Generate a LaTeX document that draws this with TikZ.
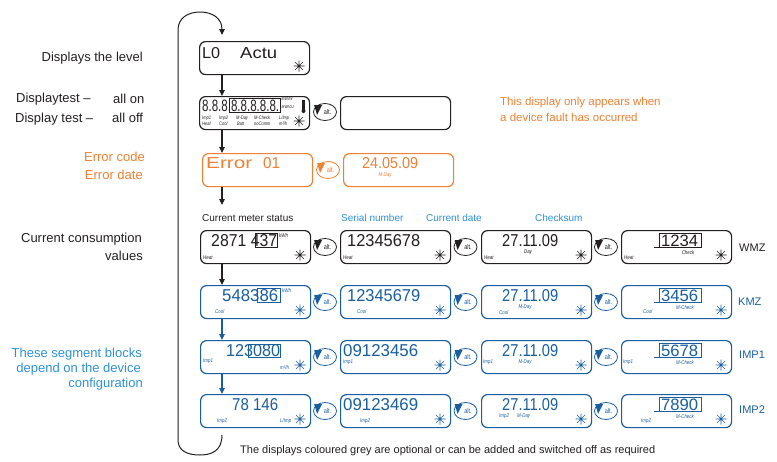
\documentclass[tikz,border=0pt]{standalone}
\usepackage{fontspec}
\usepackage{graphicx}
\setmainfont{Liberation Sans}
\newfontfamily\segf{Liberation Sans}
\newfontfamily\smallf{Liberation Sans}[FakeStretch=0.8]
\usetikzlibrary{shapes.geometric,arrows.meta}
\definecolor{orng}{RGB}{240,128,50}
\definecolor{dblue}{RGB}{25,95,160}
\definecolor{lblue}{RGB}{45,145,215}
\definecolor{ink}{RGB}{35,31,32}
\tikzset{
 dispbox/.style={draw, rounded corners=6pt, line width=1.2pt, minimum width=110pt, minimum height=33pt, inner sep=0pt, anchor=north west, fill=white},
 altbtn/.style={ellipse, draw, line width=0.8pt, minimum width=23pt, minimum height=17pt, inner sep=0pt, font=\smallf\fontsize{7}{8}\selectfont},
 segtxt/.style={anchor=north west, inner sep=0pt},
 sml/.style={inner sep=0pt, font=\smallf\itshape\fontsize{5.5}{6}\selectfont},
 tinyu/.style={inner sep=0pt, anchor=north west, font=\smallf\itshape\fontsize{4.2}{5}\selectfont},
 colu/.style={inner sep=0pt, align=left, anchor=north west, font=\smallf\itshape\fontsize{5}{6.6}\selectfont},
 lab/.style={inner sep=0pt, font=\fontsize{13}{15}\selectfont},
 hdr/.style={inner sep=0pt, font=\fontsize{10}{12}\selectfont},
 rlab/.style={inner sep=0pt, font=\fontsize{11}{13}\selectfont},
 flow/.style={line width=1.1pt, -{Triangle[length=6pt,width=5.5pt]}},
 loopline/.style={line width=1pt, -{Triangle[length=6pt,width=5.5pt]}},
}
\newcommand\DispBox[3]{\node[dispbox] (#1) at (#2,#3) {};}
\newcommand\StarMark[1]{\draw[line width=0.6pt] ([shift={(100,25)}]#1.north west) +(0:5.5pt) -- +(180:5.5pt) +(45:5.5pt) -- +(225:5.5pt) +(90:5.5pt) -- +(270:5.5pt) +(135:5.5pt) -- +(315:5.5pt);}
\newcommand\Seg[7]{\node[segtxt] (#1) at ([shift={(#3,#4)}]#2.north west) {\resizebox{#5pt}{#6pt}{\segf #7}};}
\newcommand\Sml[6]{\node[sml, anchor=#5] (#1) at ([shift={(#3,#4)}]#2.north west) {#6};}
\newcommand\FrameBox[1]{\draw[line width=0.8pt] ([shift={(38,3)}]#1.north west) rectangle ([shift={(80,17)}]#1.north west);
 \draw[line width=0.8pt] ([shift={(33,17)}]#1.north west) -- ([shift={(38,17)}]#1.north west);}
\newcommand\AltBtn[3]{\node[altbtn] (#1) at (#2,#3) {\hspace*{5pt}alt.};
 \fill ([shift={(1,-7)}]#1.west) -- ([shift={(9,-7)}]#1.west) -- ([shift={(4,3)}]#1.west) -- cycle;}
\begin{document}
\begin{tikzpicture}[x=1pt,y=-1pt,color=ink]
\useasboundingbox (0,0) rectangle (777,461);
\coordinate (ax) at (222,0);

% ---------- left labels ----------
\node[lab, anchor=base east] (t1) at (143,61.5) {Displays the level};
\node[lab, anchor=base west] (t2) at (16,102.5) {Displaytest –};
\node[lab, anchor=base west] (t3) at (113,103.5) {all on};
\node[lab, anchor=base west] (t4) at (15,122) {Display test –};
\node[lab, anchor=base west] (t5) at (112,122) {all off};
\node[lab, anchor=base east, text=orng] (t6) at (145,161.5) {Error code};
\node[lab, anchor=base east, text=orng] (t7) at (143,179) {Error date};
\node[lab, anchor=base east] (t8) at (142,242.5) {Current consumption};
\node[lab, anchor=base east] (t9) at (143,260.5) {values};
\node[lab, anchor=base east, text=lblue] (t10) at (142,357.5) {These segment blocks};
\node[lab, anchor=base east, text=lblue] (t11) at (141,372.5) {depend on the device};
\node[lab, anchor=base east, text=lblue] (t12) at (143,387.5) {configuration};

\node[rlab, anchor=base west, text=orng, font=\fontsize{11.5}{13}\selectfont] (o1) at (500,105) {This display only appears when};
\node[rlab, anchor=base west, text=orng, font=\fontsize{11.5}{13}\selectfont] (o2) at (500,121) {a device fault has occurred};

\node[hdr, anchor=base west] (h1) at (202,221.5) {Current meter status};
\node[hdr, anchor=base west, text=lblue] (h2) at (341,221.5) {Serial number};
\node[hdr, anchor=base west, text=lblue] (h3) at (426,221.5) {Current date};
\node[hdr, anchor=base west, text=lblue] (h4) at (535,221.5) {Checksum};

\node[rlab, anchor=base west] (w1) at (739,251) {WMZ};
\node[rlab, anchor=base west, text=dblue] (w2) at (738,305) {KMZ};
\node[rlab, anchor=base west, text=dblue] (w3) at (739,358) {IMP1};
\node[rlab, anchor=base west, text=dblue] (w4) at (739,413) {IMP2};

\node[rlab, anchor=base west] (foot) at (240,453) {The displays coloured grey are optional or can be added and switched off as required};

% ---------- loop ----------
\coordinate (lpA) at (222,435);
\coordinate (lpB) at (222,35);
\draw[loopline] (lpA) .. controls (222,452) and (210,455) .. (200,455) .. controls (186,455) and (178,450) .. (178,440) -- (178,30) .. controls (178,18) and (188,12) .. (200,12) .. controls (212,12) and (222,18) .. (lpB);

% ---------- row 0 ----------
\DispBox{r0}{199}{41} \StarMark{r0}
\Seg{r0a}{r0}{3}{6}{18}{11}{L0}
\Seg{r0b}{r0}{41}{6}{37}{11}{Actu}

% ---------- row 1 ----------
\DispBox{r1}{199}{96} \StarMark{r1}
\Seg{r1a}{r1}{3}{3.5}{77}{11.5}{8.8.8.8.8.8.8.8.}
\draw[line width=0.7pt] ([shift={(30,2)}]r1.north west) rectangle ([shift={(81,16.5)}]r1.north west);
\node[tinyu] (r1u1) at ([shift={(82.5,1.5)}]r1.north west) {kWh/W};
\node[tinyu] (r1u2) at ([shift={(82.5,9)}]r1.north west) {MWhGJ};
\fill ([shift={(103,4)}]r1.north west) rectangle ([shift={(106,14)}]r1.north west);
\fill ([shift={(104.5,15)}]r1.north west) circle (2pt);
\node[colu] (r1c1) at ([shift={(3,19.5)}]r1.north west) {Imp1\\Heat};
\node[colu] (r1c2) at ([shift={(20,19.5)}]r1.north west) {Imp2\\Cool};
\node[colu] (r1c3) at ([shift={(37,19.5)}]r1.north west) {M-Day\\\hspace*{1pt}Batt};
\node[colu] (r1c4) at ([shift={(55,19.5)}]r1.north west) {M-Check\\noComm};
\node[colu] (r1c5) at ([shift={(80,19.5)}]r1.north west) {L/Imp\\m³/h};
\DispBox{r1x}{340}{96}
\AltBtn{a1}{325}{112}
\draw[flow] (r0.south -| ax) -- (r1.north -| ax);

% ---------- row 2 (error) ----------
\begin{scope}[color=orng]
\DispBox{r2}{202}{153}
\Seg{r2a}{r2}{4}{4}{46}{11}{Error}
\Seg{r2b}{r2}{61}{4}{17}{11}{01}
\DispBox{r2x}{343}{153}
\Seg{r2c}{r2x}{19}{4}{56}{11}{24.05.09}
\Sml{r2d}{r2x}{42}{22}{center}{M-Day}
\AltBtn{a2}{328}{170}
\end{scope}
\draw[flow] (r1.south -| ax) -- (r2.north -| ax);
\coordinate (r2end) at (222,205);
\draw[flow] (r2.south -| ax) -- (r2end);

% ---------- row 3 (WMZ) ----------
\DispBox{w11}{200}{230} \StarMark{w11}
\Seg{w11a}{w11}{11}{4}{66}{12}{2871 437}
\draw[line width=0.8pt] ([shift={(55,3)}]w11.north west) rectangle ([shift={(77,17)}]w11.north west);
\Sml{w11b}{w11}{79}{3}{north west}{kWh}
\Sml{w11c}{w11}{3}{28}{west}{Heat}
\DispBox{w12}{340}{230} \StarMark{w12}
\Seg{w12a}{w12}{7}{4}{73}{12}{12345678}
\Sml{w12c}{w12}{3}{28}{west}{Heat}
\DispBox{w13}{481}{230} \StarMark{w13}
\Seg{w13a}{w13}{21}{4}{56}{12}{27.11.09}
\Sml{w13b}{w13}{47}{22}{center}{Day}
\Sml{w13c}{w13}{3}{28}{west}{Heat}
\DispBox{w14}{621}{230} \StarMark{w14}
\FrameBox{w14}
\Seg{w14a}{w14}{40}{4.5}{37}{11.5}{1234}
\Sml{w14b}{w14}{67}{22.5}{center}{Check}
\Sml{w14c}{w14}{3}{28}{west}{Heat}
\AltBtn{a31}{325}{247}
\AltBtn{a32}{465.5}{247}
\AltBtn{a33}{606}{247}

% ---------- rows 4-6 (blue) ----------
\begin{scope}[color=dblue]
% KMZ
\DispBox{k11}{200}{285} \StarMark{k11}
\Seg{k11a}{k11}{22}{4}{56}{12}{548386}
\draw[line width=0.8pt] ([shift={(57,3)}]k11.north west) rectangle ([shift={(80,17)}]k11.north west);
\Sml{k11b}{k11}{82}{3}{north west}{kWh}
\Sml{k11c}{k11}{15}{27}{west}{Cool}
\DispBox{k12}{340}{285} \StarMark{k12}
\Seg{k12a}{k12}{7}{4}{73}{12}{12345679}
\Sml{k12c}{k12}{17}{27}{west}{Cool}
\DispBox{k13}{481}{285} \StarMark{k13}
\Seg{k13a}{k13}{21}{4}{56}{12}{27.11.09}
\Sml{k13b}{k13}{44}{22}{center}{M-Day}
\Sml{k13c}{k13}{18}{27.5}{west}{Cool}
\DispBox{k14}{621}{285} \StarMark{k14}
\FrameBox{k14}
\Seg{k14a}{k14}{40}{4.5}{37}{11.5}{3456}
\Sml{k14b}{k14}{64}{22.5}{center}{M-Check}
\Sml{k14c}{k14}{22}{27}{west}{Cool}
\AltBtn{a41}{325}{302}
\AltBtn{a42}{465.5}{302}
\AltBtn{a43}{606}{302}
% IMP1
\DispBox{i11}{200}{340} \StarMark{i11}
\Seg{i11a}{i11}{26}{4}{54}{12}{123080}
\draw[line width=0.8pt] ([shift={(48,4)}]i11.north west) rectangle ([shift={(80,17)}]i11.north west);
\Sml{i11b}{i11}{3}{21}{west}{Imp1}
\Sml{i11c}{i11}{80}{28}{west}{m³/h}
\DispBox{i12}{340}{340} \StarMark{i12}
\Seg{i12a}{i12}{3}{4}{75}{12}{09123456}
\Sml{i12c}{i12}{3}{22}{west}{Imp1}
\DispBox{i13}{481}{340} \StarMark{i13}
\Seg{i13a}{i13}{21}{4}{56}{12}{27.11.09}
\Sml{i13b}{i13}{44}{22}{center}{M-Day}
\Sml{i13c}{i13}{2}{22}{west}{Imp1}
\DispBox{i14}{621}{340} \StarMark{i14}
\FrameBox{i14}
\Seg{i14a}{i14}{40}{4.5}{37}{11.5}{5678}
\Sml{i14b}{i14}{64}{22.5}{center}{M-Check}
\Sml{i14c}{i14}{2}{22}{west}{Imp1}
\AltBtn{a51}{325}{357}
\AltBtn{a52}{465.5}{357}
\AltBtn{a53}{606}{357}
% IMP2
\DispBox{j11}{200}{394} \StarMark{j11}
\Seg{j11a}{j11}{32}{4}{46}{12}{78 146}
\Sml{j11b}{j11}{17}{27}{west}{Imp2}
\Sml{j11c}{j11}{80}{27}{west}{L/Imp}
\DispBox{j12}{340}{394} \StarMark{j12}
\Seg{j12a}{j12}{3}{4}{75}{12}{09123469}
\Sml{j12c}{j12}{20}{27}{west}{Imp2}
\DispBox{j13}{481}{394} \StarMark{j13}
\Seg{j13a}{j13}{21}{4}{56}{12}{27.11.09}
\Sml{j13b}{j13}{18}{22}{west}{Imp2}
\Sml{j13c}{j13}{36}{22}{west}{M-Day}
\DispBox{j14}{621}{394} \StarMark{j14}
\FrameBox{j14}
\Seg{j14a}{j14}{40}{4.5}{37}{11.5}{7890}
\Sml{j14b}{j14}{64}{22.5}{center}{M-Check}
\Sml{j14c}{j14}{20}{27}{west}{Imp2}
\AltBtn{a61}{325}{411}
\AltBtn{a62}{465.5}{411}
\AltBtn{a63}{606}{411}
\draw[flow] (k11.south -| ax) -- (i11.north -| ax);
\draw[flow] (i11.south -| ax) -- (j11.north -| ax);
\end{scope}
\draw[flow] (w11.south -| ax) -- (k11.north -| ax);
\end{tikzpicture}
\end{document}
